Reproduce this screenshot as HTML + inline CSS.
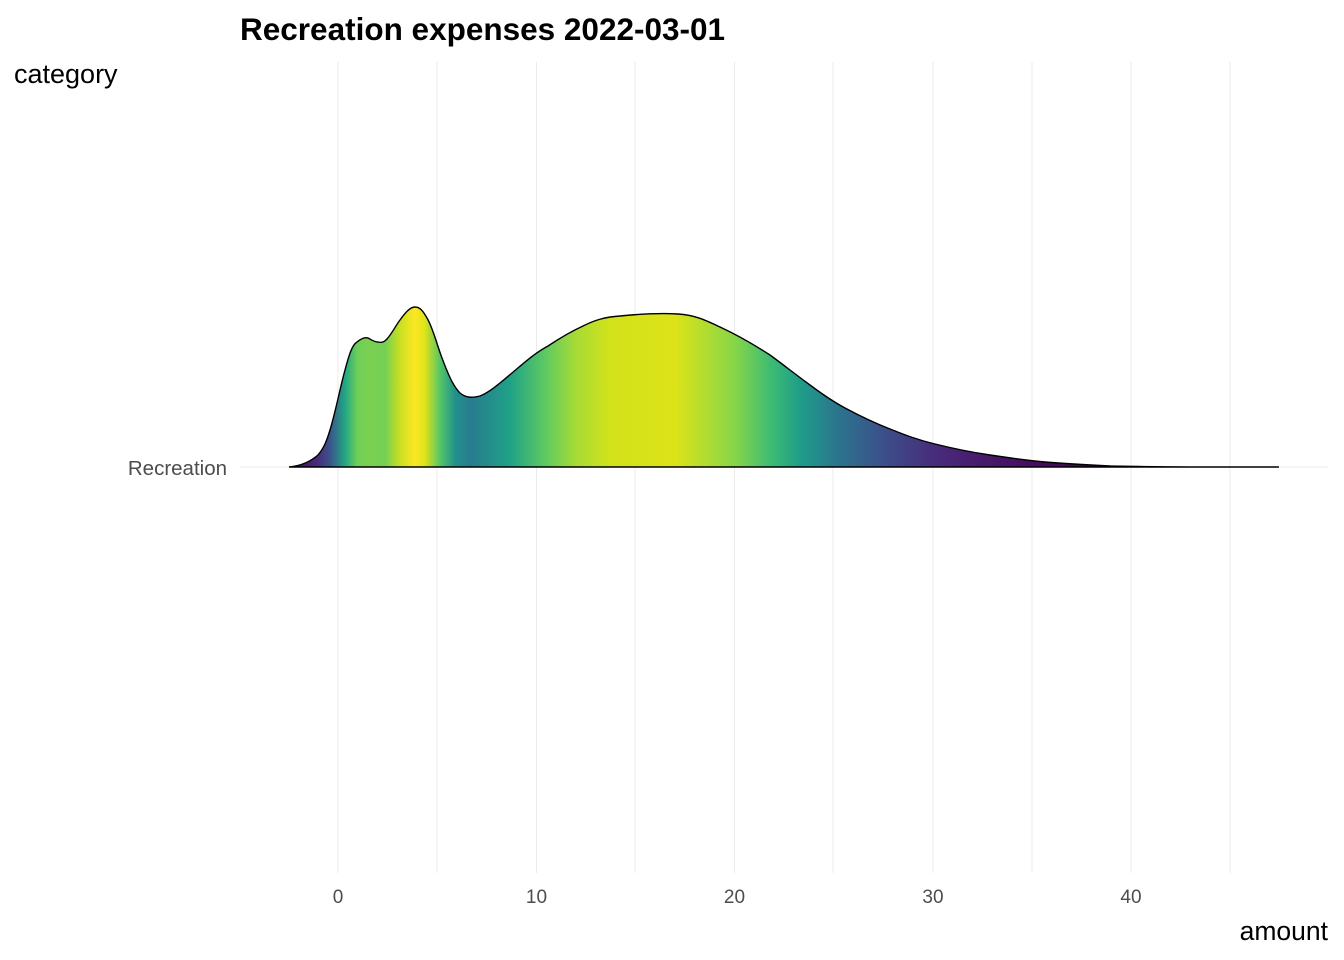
<!DOCTYPE html>
<html><head><meta charset="utf-8"><style>body{margin:0;background:#fff}svg{display:block}</style></head>
<body>
<svg width="1344" height="960" xmlns="http://www.w3.org/2000/svg" font-family="Liberation Sans, sans-serif">
<defs>
<linearGradient id="g" gradientUnits="userSpaceOnUse" x1="289" y1="0" x2="1279" y2="0">
<stop offset="0" stop-color="#440154"/>
<stop offset=".029" stop-color="#472d7b"/>
<stop offset=".041" stop-color="#3b528b"/>
<stop offset=".057" stop-color="#22a884"/>
<stop offset=".069" stop-color="#6ece58"/>
<stop offset=".080" stop-color="#7ad151"/>
<stop offset=".097" stop-color="#74d055"/>
<stop offset=".112" stop-color="#c8e020"/>
<stop offset=".127" stop-color="#fde725"/>
<stop offset=".137" stop-color="#e0e419"/>
<stop offset=".153" stop-color="#52c569"/>
<stop offset=".168" stop-color="#21918c"/>
<stop offset=".183" stop-color="#287c8e"/>
<stop offset=".223" stop-color="#1fa187"/>
<stop offset=".259" stop-color="#5ec962"/>
<stop offset=".289" stop-color="#a5db36"/>
<stop offset=".324" stop-color="#d2e21b"/>
<stop offset=".390" stop-color="#dde318"/>
<stop offset=".451" stop-color="#86d549"/>
<stop offset=".486" stop-color="#3fbc73"/>
<stop offset=".516" stop-color="#1f9e89"/>
<stop offset=".557" stop-color="#2c728e"/>
<stop offset=".597" stop-color="#3b528b"/>
<stop offset=".647" stop-color="#472f7d"/>
<stop offset=".698" stop-color="#481a6c"/>
<stop offset=".759" stop-color="#460b5e"/>
<stop offset="1" stop-color="#440154"/>
</linearGradient>
</defs>
<g stroke="#ebebeb" stroke-width="1">
<line x1="338" y1="62" x2="338" y2="873"/><line x1="536.5" y1="62" x2="536.5" y2="873"/><line x1="734.5" y1="62" x2="734.5" y2="873"/><line x1="933" y1="62" x2="933" y2="873"/><line x1="1131" y1="62" x2="1131" y2="873"/>
<line x1="437" y1="62" x2="437" y2="873"/><line x1="635" y1="62" x2="635" y2="873"/><line x1="833" y1="62" x2="833" y2="873"/><line x1="1032" y1="62" x2="1032" y2="873"/><line x1="1230" y1="62" x2="1230" y2="873"/>
<line x1="240" y1="467" x2="1328" y2="467"/>
</g>
<path d="M289,467 C300,466 310,462 318,455 C324,448 327,440 330,430 C336,410 340,388 345,370 C349,355 352,345 357,342 C362,338 365,337 368,338 C372,340 374,342 378,342 C382,343 384,342 387,339 C393,332 396,325 400,320 C405,313 410,307 415,307 C420,307 423,311 427,318 C433,328 437,345 442,358 C448,374 453,386 460,393 C466,398 472,398 480,396 C490,392 500,383 512,373 C525,362 535,353 548,346 C560,338 570,332 583,326 C595,320 605,317 620,316 C640,314 660,313 678,314 C695,315 705,320 720,327 C735,334 750,342 770,355 C785,366 795,374 810,385 C822,394 832,401 845,408 C860,416 872,422 890,429 C905,435 918,440 935,444 C955,449 970,452 990,455 C1010,458 1025,460 1045,462 C1070,464 1090,465 1110,466 C1150,467 1200,467 1279,467 Z" fill="url(#g)" stroke="#000" stroke-width="1.4"/>
<text x="240" y="40" font-size="31.5" font-weight="bold" fill="#000">Recreation expenses 2022-03-01</text>
<text x="14" y="83" font-size="27" fill="#000">category</text>
<text x="1328" y="940" font-size="26.5" fill="#000" text-anchor="end">amount</text>
<text x="227" y="475" font-size="20.5" fill="#4d4d4d" text-anchor="end">Recreation</text>
<g font-size="19" fill="#4d4d4d" text-anchor="middle">
<text x="338" y="903">0</text><text x="536.5" y="903">10</text><text x="734.5" y="903">20</text><text x="933" y="903">30</text><text x="1131" y="903">40</text>
</g>
</svg>
</body></html>
